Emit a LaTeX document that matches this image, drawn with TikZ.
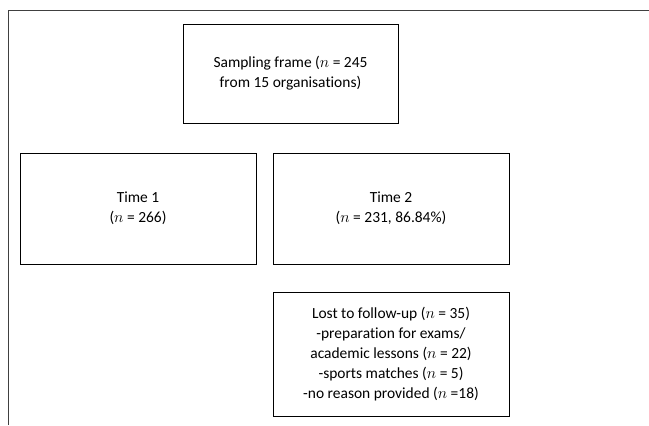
\documentclass[tikz,border=0pt]{standalone}
\usepackage{fontspec}
\setmainfont{Carlito}[Ligatures=NoCommon]
\usepackage{tikz}
\usetikzlibrary{arrows}

\tikzset{box/.style={draw, line width=0.7pt, align=center, inner sep=0pt, font=\fontsize{11.6}{15}\selectfont}}

\begin{document}
\begin{tikzpicture}[x=0.75pt,y=-0.75pt]
\useasboundingbox (0,0) rectangle (649,425);
%outer frame
\draw[line width=0.7pt, black!75] (8,425) -- (8,10.5) -- (649,10.5);

\node[box, minimum width=161.25pt, minimum height=74.25pt] (A) at (290.5,73.5) {Sampling frame ($n$ = 245\\from 15 organisations)};
\node[box, minimum width=177pt, minimum height=83.25pt] (B) at (138,208.5) {Time 1\\($n$ = 266)};
\node[box, minimum width=177pt, minimum height=83.25pt] (C) at (391,208.5) {Time 2\\($n$ = 231, 86.84\%)};
\node[box, minimum width=177pt, minimum height=93pt] (D) at (391,354) {Lost to follow-up ($n$ = 35)\\ -preparation for exams/\\academic lessons ($n$ = 22)\\-sports matches ($n$ = 5)\\-no reason provided ($n$ =18)};

\end{tikzpicture}
\end{document}
